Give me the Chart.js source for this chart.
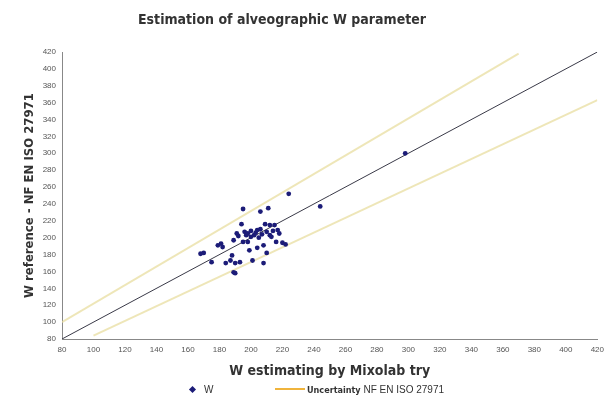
<!DOCTYPE html>
<html>
<head>
<meta charset="utf-8">
<script src="https://cdn.jsdelivr.net/npm/chart.js@4"></script>
<style>
  html, body { margin: 0; padding: 0; background: #fff; }
  #wrap { position: relative; width: 607px; height: 402px; }
  #legend {
    position: absolute; left: 0; top: 382px; width: 607px; height: 16px;
    font-family: 'Liberation Sans', Arial, sans-serif; font-size: 10px; color: #333;
  }
  #legend .item { position: absolute; top: 0; line-height: 16px; white-space: nowrap; }
  #legend .dot {
    display: inline-block; width: 5px; height: 5px; background: #1c1c78;
    transform: rotate(45deg); margin-right: 9px; vertical-align: 1px;
  }
  #legend .line {
    display: inline-block; width: 30px; height: 2px; background: #f0b43c;
    vertical-align: 3px; margin-right: 2px;
  }
  #legend b { font-family: 'DejaVu Sans Condensed', sans-serif; font-size: 9px; }
</style>
</head>
<body>
<div id="wrap">
  <canvas id="chart" width="607" height="402"></canvas>
  <div id="legend">
    <span class="item" style="left:190px"><span class="dot"></span>W</span>
    <span class="item" style="left:275px"><span class="line"></span><b>Uncertainty</b> NF EN ISO 27971</span>
  </div>
</div>
<script>
/* data */
const wMixolab   = [168, 170, 175, 179, 181, 182, 184, 187, 188, 189, 189, 190, 190, 191, 192, 193, 194, 195,
                    195, 196, 197, 198, 198, 199, 200, 200, 201, 202, 203, 204, 204, 205, 206, 206, 207, 208,
                    208, 209, 210, 210, 211, 212, 212, 213, 214, 215, 216, 217, 218, 220, 222, 224, 244, 298];
const wReference = [181, 182, 171, 191, 193, 189, 170, 173, 179, 197, 159, 170, 158, 205, 202, 171, 216, 234,
                    195, 207, 203, 195, 205, 185, 208, 201, 173, 203, 206, 188, 209, 200, 231, 210, 204, 191,
                    170, 216, 182, 207, 235, 215, 203, 201, 208, 215, 195, 209, 205, 194, 192, 252, 237, 300];

const upperX = [80, 370];
const upperY = [100, 418];
const lowerX = [100, 420];
const lowerY = [84, 363];
const diagX  = [80, 420];
const diagY  = [80, 420];

const TITLE = 'Estimation of alveographic W parameter';

const toPts = (xs, ys) => xs.map((x, i) => ({ x, y: ys[i] }));

const CONDENSED = "'DejaVu Sans Condensed', 'Liberation Sans Narrow', sans-serif";
const TICK = { color: '#555', font: { size: 8, family: 'Liberation Sans' }, stepSize: 20, autoSkip: false, maxRotation: 0 };

// title sits a little left of the canvas centre in the original
const titlePlugin = {
  id: 'offsetTitle',
  afterDraw(chart) {
    const ctx = chart.ctx;
    ctx.save();
    ctx.font = 'bold 14px ' + CONDENSED;
    ctx.fillStyle = '#333';
    ctx.textAlign = 'center';
    ctx.textBaseline = 'middle';
    ctx.fillText(TITLE, 282, 20);
    ctx.restore();
  }
};

new Chart(document.getElementById('chart'), {
  type: 'scatter',
  data: {
    datasets: [
      {
        label: 'W',
        data: toPts(wMixolab, wReference),
        backgroundColor: '#1c1c78',
        borderColor: '#1c1c78',
        pointStyle: 'circle',
        pointRadius: 2.4,
        borderWidth: 0,
        order: 0
      },
      {
        label: 'Uncertainty NF EN ISO 27971',
        data: toPts(upperX, upperY),
        showLine: true,
        borderColor: 'rgba(232,222,160,0.75)',
        borderWidth: 2,
        pointRadius: 0,
        order: 2
      },
      {
        label: 'lower',
        data: toPts(lowerX, lowerY),
        showLine: true,
        borderColor: 'rgba(232,222,160,0.75)',
        borderWidth: 2,
        pointRadius: 0,
        order: 2
      },
      {
        label: 'y = x',
        data: toPts(diagX, diagY),
        showLine: true,
        borderColor: '#3a3a48',
        borderWidth: 1,
        pointRadius: 0,
        order: 1
      }
    ]
  },
  options: {
    responsive: false,
    animation: false,
    layout: { padding: { left: 0, right: 9, top: 52, bottom: 22 } },
    plugins: {
      legend: { display: false },
      tooltip: { enabled: false },
      title: { display: false }
    },
    scales: {
      x: {
        type: 'linear', min: 80, max: 420,
        ticks: TICK,
        grid: { display: false, drawTicks: true, tickLength: 3, tickColor: '#888' },
        border: { color: '#888' },
        title: { display: true, text: 'W estimating by Mixolab try', color: '#333',
                 font: { size: 14, weight: 'bold', family: CONDENSED }, padding: { top: 6, bottom: 0 } },
        afterFit: s => { s.height = 41; }
      },
      y: {
        type: 'linear', min: 80, max: 420,
        ticks: TICK,
        grid: { display: false, drawTicks: true, tickLength: 3, tickColor: '#888' },
        border: { color: '#888' },
        title: { display: true, text: 'W reference - NF EN ISO 27971', color: '#333',
                 font: { size: 13, weight: 'bold', family: CONDENSED }, padding: { top: 22, bottom: 0 } },
        afterFit: s => { s.width = 62; }
      }
    }
  },
  plugins: [titlePlugin]
});
</script>
</body>
</html>
